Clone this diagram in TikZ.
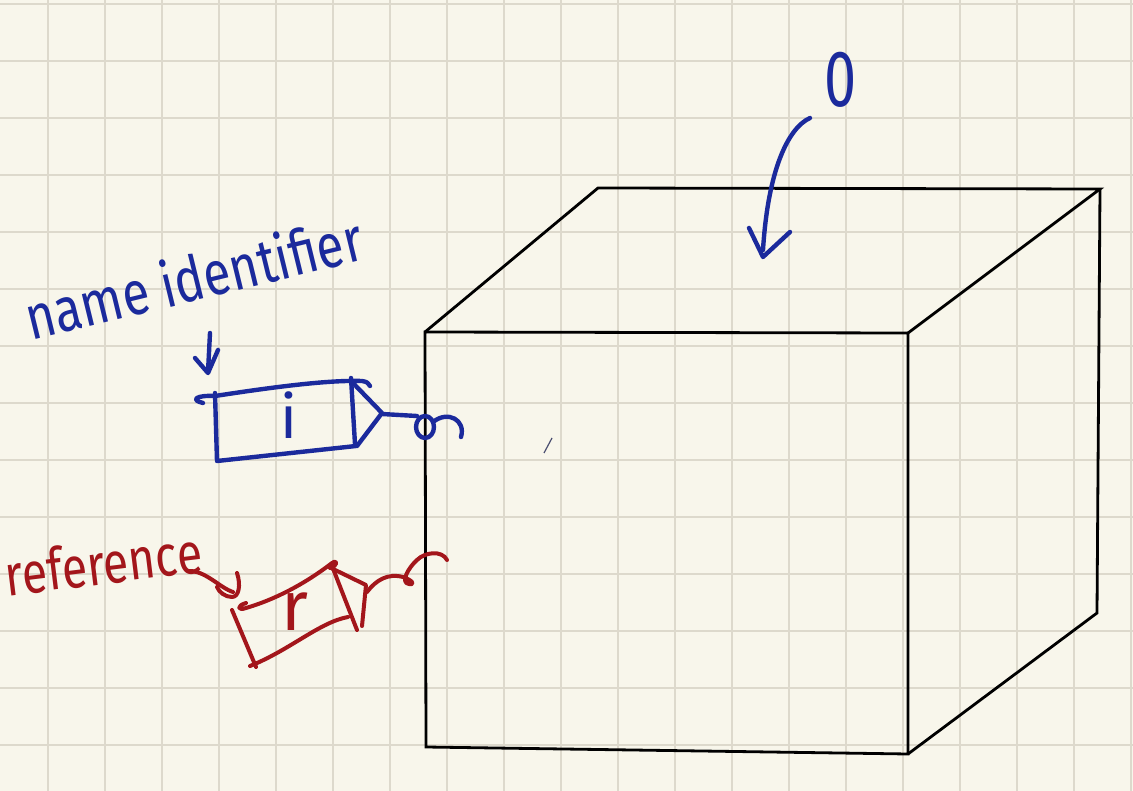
\documentclass[tikz,border=0pt]{standalone}
\usepackage{fontspec}
\setmainfont{Fira Sans}
\usetikzlibrary{arrows.meta}
\definecolor{paper}{HTML}{F8F6EB}
\definecolor{gridc}{HTML}{DDD9CC}
\definecolor{ink}{HTML}{1B2A9C}
\definecolor{redink}{HTML}{A3161B}
\definecolor{tickc}{HTML}{4A4E70}
\tikzset{
  gridline/.style={gridc, line width=2pt},
  cubeline/.style={black, line width=2.8pt, line join=miter},
  inkline/.style={ink, line width=4.4pt, line cap=round, line join=round},
  redline/.style={redink, line width=4pt, line cap=round, line join=round},
  inktext/.style={ink, inner sep=0pt},
  redtext/.style={redink, inner sep=0pt},
}
\begin{document}
\begin{tikzpicture}[x=1pt,y=-1pt]
\fill[paper] (0,0) rectangle (1133,791);
\useasboundingbox (0,0) rectangle (1133,791);
% grid
\foreach \k in {0,...,19} \draw[gridline] ({47.7+57*\k},0) -- ({47.7+57*\k},791);
\foreach \k in {0,...,13} \draw[gridline] (0,{4+57*\k}) -- (1133,{4+57*\k});

% cube
\coordinate (A) at (425,332);
\coordinate (B) at (908,333);
\coordinate (C) at (908,754);
\coordinate (D) at (426,747);
\coordinate (E) at (598,188);
\coordinate (F) at (1100,189);
\coordinate (G) at (1097,613);
\draw[cubeline] (D) -- (A) -- (B) -- (C) -- cycle;
\draw[cubeline] (A) -- (E) -- (F) -- (B);
\draw[cubeline] (F) -- (G) -- (C);

% stray tick
\draw[tickc, line width=1.2pt] (544,453) -- (552,438);

% label 0 and its arrow
\node[inktext, anchor=base] (zero) at (841,107) {\fontsize{80}{80}\selectfont\scalebox{0.72}[1]{0}};
\coordinate (zs) at (810,118);
\coordinate (ze) at (763,250);
\draw[inkline] (zs) .. controls (788,128) and (768,170) .. (ze);
\draw[inkline] (749,228) -- (763,257) -- (790,232);

% name identifier
\node[inktext, rotate=13.7, anchor=base] (nameid) at (199,300) {\fontsize{62}{64}\selectfont\scalebox{0.8}[1]{name identifier}};
\coordinate (ns) at (210,333);
\coordinate (ne) at (208,372);
\draw[inkline] (ns) -- (ne);
\draw[inkline] (195,358) -- (208,373) -- (218,350);

% blue box
\draw[inkline] (203,403) .. controls (190,400) and (196,395) .. (215,396) .. controls (280,386) and (330,380) .. (362,381) .. controls (367,382) .. (370,386);
\draw[inkline] (215,393) -- (217,461) -- (356,446);
\draw[inkline] (351,378) -- (355,444);
\draw[inkline] (352,382) -- (382,413) -- (357,446);
\node[inktext] (ilbl) at (289,415) {\fontsize{60}{60}\selectfont i};
\coordinate (bt) at (382,414);
\coordinate (bc) at (425,427);
\draw[inkline] (bt) -- (417,416);
\draw[inkline] (bc) ellipse [x radius=9, y radius=11];
\draw[inkline] (433,422) .. controls (448,410) and (466,420) .. (461,437);

% reference
\node[redtext, rotate=7, anchor=base] (reflbl) at (106,584) {\fontsize{58}{60}\selectfont\scalebox{0.8}[1]{reference}};
\coordinate (rs) at (188,571);
\coordinate (re) at (233,592);
\draw[redline] (rs) .. controls (205,570) and (220,588) .. (re);
\draw[redline] (237,573) .. controls (241,585) and (239,597) .. (232,597) .. controls (225,597) and (219,592) .. (217,587);

% red box
\draw[redline] (246,603) .. controls (236,606) and (238,611) .. (246,608) .. controls (280,598) and (310,580) .. (332,563) .. controls (338,559) and (338,566) .. (330,568);
\draw[redline] (232,610) -- (256,667);
\draw[redline] (250,666) .. controls (290,650) and (320,622) .. (348,617);
\draw[redline] (332,566) -- (357,630);
\draw[redline] (329,567) -- (366,585) -- (362,626);
\node[redtext] (rlbl) at (295,612) {\fontsize{70}{70}\selectfont r};
\coordinate (rt) at (367,592);
\draw[redline] (rt) .. controls (376,580) and (388,573) .. (403,577) .. controls (412,580) and (416,585) .. (409,584) .. controls (400,583) and (408,568) .. (417,560) .. controls (425,552) and (442,550) .. (447,560);
\end{tikzpicture}
\end{document}
